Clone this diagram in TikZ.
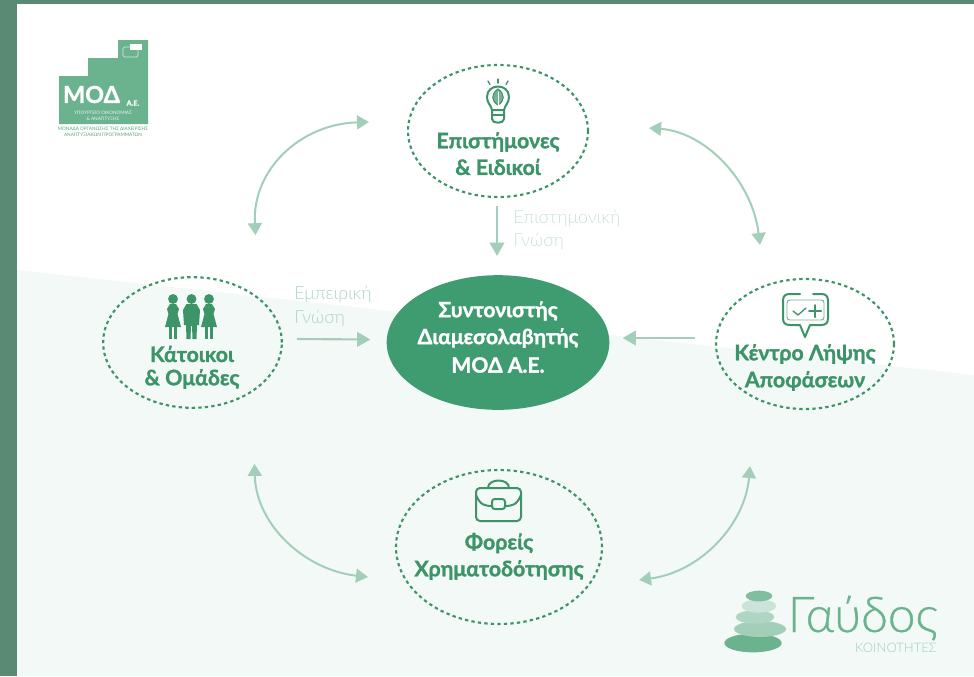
\documentclass[tikz,border=0pt]{standalone}
\usepackage{fontspec}
\setmainfont{Lato}[BoldFeatures={FakeBold=1.3}]
\newfontfamily\lightfont{Lato Light}
\newfontfamily\gavfont{Lato Light}[FakeBold=0.7]
\usetikzlibrary{shapes.geometric,arrows.meta}
\definecolor{frame}{HTML}{5A8A74}
\definecolor{pale}{HTML}{F3F9F6}
\definecolor{deep}{HTML}{3C9468}
\definecolor{midgreen}{HTML}{3F9C70}
\definecolor{arrowc}{HTML}{A3CFBA}
\definecolor{logoc}{HTML}{6BB38F}
\definecolor{faint}{HTML}{CBE3D8}
\definecolor{soft}{HTML}{AFD5C3}
\tikzset{
  x=0.75pt,y=-0.75pt,
  actor/.style={ellipse,draw=deep,line width=1.6pt,dash pattern=on 2.5pt off 2.4pt,inner sep=0pt},
  hub/.style={ellipse,fill=midgreen,inner sep=0pt},
  title/.style={font=\fontsize{16}{18}\selectfont\bfseries,text=deep,inner sep=0pt,anchor=center},
  hubtext/.style={font=\fontsize{15.8}{18}\selectfont\bfseries,text=white,inner sep=0pt},
  flowlabel/.style={font=\lightfont\fontsize{13.5}{15}\selectfont,inner sep=0pt,anchor=west},
  flow/.style={draw=arrowc,line width=1.6pt,-{Triangle[length=10pt,width=11pt,fill=arrowc]}},
  swap/.style={draw=arrowc,line width=1.5pt,{Triangle[length=9pt,width=10.5pt,fill=arrowc]}-{Triangle[length=9pt,width=10.5pt,fill=arrowc]}},
  icon/.style={draw=deep,line width=1.5pt,line cap=round,line join=round,fill=none},
  stone/.style={ellipse,inner sep=0pt,draw=none},
}
\begin{document}
\begin{tikzpicture}
\useasboundingbox (0,0) rectangle (974,676);
\fill[frame] (0,0) rectangle (974,676);
\fill[white] (17,4) rectangle (974,676);
\fill[pale] (17,270) -- (974,375) -- (974,676) -- (17,676) -- cycle;

% Main nodes
\node[actor,minimum width=135pt,minimum height=99pt] (sci) at (498,131) {};
\node[actor,minimum width=134pt,minimum height=98pt] (res) at (192.5,342.5) {};
\node[actor,minimum width=133.5pt,minimum height=97.5pt] (dec) at (805,344) {};
\node[actor,minimum width=154.5pt,minimum height=115.5pt] (fin) at (499,547) {};
\node[hub,minimum width=167pt,minimum height=101pt] (hub) at (498,342.5) {};

% Texts
\node[title] (sciA) at (498,142) {Επιστήμονες};
\node[title] (sciB) at (498,167) {\& Ειδικοί};
\node[title] (resA) at (192,354) {Κάτοικοι};
\node[title] (resB) at (192,379) {\& Ομάδες};
\node[title] (decA) at (805,354) {Κέντρο Λήψης};
\node[title] (decB) at (805,381) {Αποφάσεων};
\node[title] (finA) at (499,543) {Φορείς};
\node[title] (finB) at (499,570) {Χρηματοδότησης};
\node[hubtext] (hubA) at (498,311) {Συντονιστής};
\node[hubtext] (hubB) at (498,338) {Διαμεσολαβητής};
\node[hubtext] (hubC) at (498,365) {ΜΟΔ Α.Ε.};
\node[flowlabel,text=faint] (sciL1) at (513,218) {Επιστημονική};
\node[flowlabel,text=faint] (sciL2) at (513,241) {Γνώση};
\node[flowlabel,text=soft] (resL1) at (294,294) {Εμπειρική};
\node[flowlabel,text=soft] (resL2) at (294,318) {Γνώση};

% Straight connectors
\draw[flow] ([shift={(-1,8)}]sci.south) -- ([shift={(-1,-19)}]hub.north);
\draw[flow] ([shift={(14,-3.5)}]res.east) -- ([shift={(-16,-3)}]hub.west);
\draw[flow] ([shift={(-20,-6)}]dec.west) -- ([shift={(13,-4.5)}]hub.east);

% Curved connectors
\draw[swap] ([shift={(63,-41)}]res.north) .. controls (252,170) and (300,124) .. ([shift={(-38,-9)}]sci.west);
\draw[swap] ([shift={(60,-3)}]sci.east) .. controls (705,132) and (752,180) .. ([shift={(-45,-33)}]dec.north);
\draw[swap] ([shift={(62,55)}]res.south) .. controls (256,525) and (305,570) .. ([shift={(-27,30)}]fin.west);
\draw[swap] ([shift={(-55,56)}]dec.south) .. controls (745,525) and (700,572) .. ([shift={(36,33)}]fin.east);

% Bulb icon
\begin{scope}[icon]
\draw (492,110) .. controls (491,105) and (487,103) .. (487,97) .. controls (487,83) and (509,83) .. (509,97) .. controls (509,103) and (505,105) .. (504,110) -- cycle;
\draw (492,110) -- (492,119) .. controls (492,124) and (504,124) .. (504,119) -- (504,110);
\draw (492,115) -- (504,115);
\draw[line width=1pt] (498,79) -- (498,83);
\draw[line width=1pt] (488,81) -- (490,84.5);
\draw[line width=1pt] (508,81) -- (506,84.5);
\draw[line width=.8pt,fill=deep!70] (498,89) .. controls (491,94) and (491,101) .. (498,105) .. controls (505,101) and (505,94) .. (498,89);
\draw[line width=.6pt,white] (498,92) -- (498,107);
\end{scope}

% People icon
\foreach \cx/\nm in {173/a,209/c}{
  \fill[deep] (\cx,299) circle (3.7pt);
  \fill[deep] (\cx-3,304) -- (\cx+3,304) -- (\cx+6,309) -- (\cx+4.5,314) -- (\cx+8,327) -- (\cx-8,327) -- (\cx-4.5,314) -- (\cx-6,309) -- cycle;
  \fill[deep] (\cx-4,326) rectangle (\cx-1,339);
  \fill[deep] (\cx+1,326) rectangle (\cx+4,339);
}
\fill[deep] (191.5,299) circle (3.7pt);
\fill[deep] (186.5,304) -- (196.5,304) -- (200,310) -- (199,325) -- (197,325) -- (196.5,339) -- (192.5,339) -- (192,326) -- (191,326) -- (190.5,339) -- (186.5,339) -- (186,325) -- (184,325) -- (183,310) -- cycle;

% Speech bubble icon
\begin{scope}[icon]
\draw (800,294) -- (790,294) .. controls (785,294) and (783,296) .. (783,301) -- (783,318) .. controls (783,323) and (785,325) .. (790,325) -- (800,325) -- (805,337) -- (810,325) -- (821,325) .. controls (826,325) and (828,323) .. (828,318) -- (828,301) .. controls (828,296) and (826,294) .. (821,294) -- (813,294);
\draw[line width=.7pt,deep!70] (790,300) -- (821,300) .. controls (823,300) and (824,301) .. (824,303) -- (824,317) .. controls (824,319) and (823,320) .. (821,320) -- (790,320) .. controls (788,320) and (787,319) .. (787,317) -- (787,303) .. controls (787,301) and (788,300) .. (790,300);
\draw[line width=1pt] (793,311) -- (798,315) -- (806,308);
\draw (809,311) -- (821,311) (815,305) -- (815,317);
\end{scope}

% Briefcase icon
\begin{scope}[icon]
\draw[rounded corners=3pt] (476,488) rectangle (521,521);
\draw (476,495) .. controls (480,505) and (485,506) .. (492,506);
\draw (521,495) .. controls (517,505) and (512,506) .. (505,506);
\draw[rounded corners=2pt] (492,499) rectangle (505,509);
\draw (488,488) .. controls (488,478) and (509,478) .. (509,488);
\end{scope}

% MOD logo
\fill[logoc] (59,76) -- (88,76) -- (88,58) -- (118,58) -- (118,40) -- (148,40) -- (148,124) -- (59,124) -- cycle;
\draw[white!70!logoc,line width=.5pt,rounded corners=1pt] (123,47) rectangle (138,57);
\fill[white] (130,44) rectangle (142,50);
\node[font=\fontsize{17.5}{20}\selectfont\bfseries,text=white,inner sep=0pt] (modT) at (91.5,94.5) {ΜΟΔ};
\node[font=\fontsize{5.5}{6}\selectfont\bfseries,text=white,inner sep=0pt] (modS) at (133,103) {Α.Ε.};
\node[font=\fontsize{3.5}{4}\selectfont,text=white!85!logoc,inner sep=0pt] (modU) at (103,113) {ΥΠΟΥΡΓΕΙΟ ΟΙΚΟΝΟΜΙΑΣ};
\node[font=\fontsize{3.5}{4}\selectfont,text=white!85!logoc,inner sep=0pt] (modV) at (103,119) {\& ΑΝΑΠΤΥΞΗΣ};
\node[font=\fontsize{3.5}{4}\selectfont,text=deep!85,inner sep=0pt] (modW) at (103,129) {ΜΟΝΑΔΑ ΟΡΓΑΝΩΣΗΣ ΤΗΣ ΔΙΑΧΕΙΡΙΣΗΣ};
\node[font=\fontsize{3.5}{4}\selectfont,text=deep!85,inner sep=0pt] (modX) at (103,135) {ΑΝΑΠΤΥΞΙΑΚΩΝ ΠΡΟΓΡΑΜΜΑΤΩΝ};

% Gavdos logo
\node[stone,fill=logoc,minimum width=43pt,minimum height=14pt] (st5) at (753,643) {};
\node[stone,fill=arrowc,minimum width=39pt,minimum height=12pt] (st4) at (760,629) {};
\node[stone,fill=soft,minimum width=29pt,minimum height=10pt] (st3) at (755,617) {};
\node[stone,fill=faint,minimum width=26pt,minimum height=10pt] (st2) at (759,606) {};
\node[stone,fill=logoc!85,minimum width=20pt,minimum height=8pt] (st1) at (759,596) {};
\node[font=\gavfont\fontsize{37}{40}\selectfont,text=logoc,inner sep=0pt,anchor=base east] (gav) at (938,632) {\smash{Γαύδος}};
\node[font=\lightfont\fontsize{9.8}{10}\selectfont,text=arrowc,inner sep=0pt,anchor=east] (koi) at (937,648) {ΚΟΙΝΟΤΗΤΕΣ};
\end{tikzpicture}
\end{document}
